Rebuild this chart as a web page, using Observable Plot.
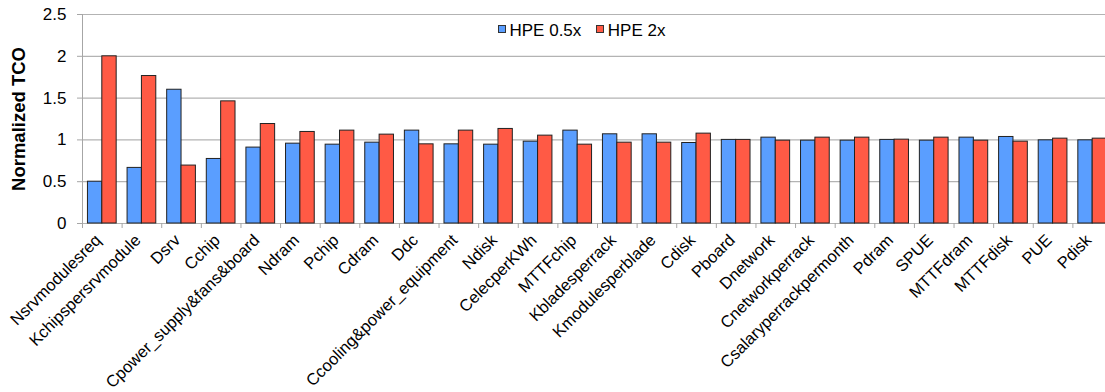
<!DOCTYPE html>
<html>
<head>
<meta charset="utf-8">
<script src="https://cdn.jsdelivr.net/npm/d3@7"></script>
<script src="https://cdn.jsdelivr.net/npm/@observablehq/plot@0.6"></script>
<style>
  html, body { margin: 0; padding: 0; background: #fff; overflow: hidden; }
  #chart { position: relative; width: 1105px; height: 392px; overflow: hidden;
           font-family: "Liberation Sans", Arial, Helvetica, sans-serif; }
  #chart svg { display: block; max-width: none !important; }
  .legend { position: absolute; left: 498px; top: 20.5px; display: flex; align-items: flex-start;
            font-size: 17px; line-height: 20px; color: #000; }
  .legend .item { display: flex; align-items: flex-start; margin-right: 15px; }
  .legend .swatch { width: 6px; height: 6px; border: 1px solid #333; margin: 4.5px 3.5px 0 0; }
</style>
</head>
<body>
<div id="chart"></div>
<script>
// TCO sensitivity per model parameter, normalized to the baseline
const categories = [
  "Nsrvmodulesreq", "Kchipspersrvmodule", "Dsrv", "Cchip", "Cpower_supply&fans&board",
  "Ndram", "Pchip", "Cdram", "Ddc", "Ccooling&power_equipment", "Ndisk", "CelecperKWh",
  "MTTFchip", "Kbladesperrack", "Kmodulesperblade", "Cdisk", "Pboard", "Dnetwork",
  "Cnetworkperrack", "Csalaryperrackpermonth", "Pdram", "SPUE", "MTTFdram", "MTTFdisk",
  "PUE", "Pdisk"
];
const series = ["HPE 0.5x", "HPE 2x"];
const hpeHalf = [
  0.50, 0.665, 1.60, 0.772, 0.908, 0.955, 0.943, 0.967, 1.111, 0.947, 0.943, 0.979,
  1.111, 1.067, 1.067, 0.963, 1.00, 1.027, 0.991, 0.991, 1.00, 0.991, 1.027, 1.035,
  0.995, 0.995
];
const hpeDouble = [
  2.00, 1.764, 0.693, 1.461, 1.19, 1.095, 1.111, 1.063, 0.947, 1.111, 1.131, 1.051,
  0.943, 0.967, 0.967, 1.075, 1.00, 0.991, 1.027, 1.027, 1.003, 1.027, 0.991, 0.979,
  1.015, 1.015
];
const yTicks = [0, 0.5, 1, 1.5, 2, 2.5];
const colors = ["#5a9eff", "#ff5a45"];

const rows = categories.flatMap((c, i) => [
  {category: c, series: series[0], value: hpeHalf[i]},
  {category: c, series: series[1], value: hpeDouble[i]}
]);

// the plot runs a few pixels past the right edge of the page, which clips it
const width = 1112, height = 392;
const marginLeft = 82, marginRight = 0, marginTop = 14, marginBottom = 169;
const band = (width - marginLeft - marginRight) / categories.length;
const outer = band * 0.1375;   // gap on each side of a bar pair
const half = band / 2;

const plot = Plot.plot({
  width, height, marginLeft, marginRight, marginTop, marginBottom,
  style: {fontFamily: "Liberation Sans, Arial, Helvetica, sans-serif", fontSize: "17px",
          color: "#000", background: "#fff"},
  x: {domain: categories, padding: 0, round: false, label: null},
  y: {domain: [0, 2.5], label: null},
  color: {domain: series, range: colors},
  marks: [
    Plot.gridY(yTicks, {stroke: "#b3b3b3", strokeOpacity: 1, strokeWidth: 1.2}),
    Plot.frame({anchor: "left", stroke: "#a6a6a6"}),
    Plot.axisY(yTicks, {tickSize: 5, tickPadding: 11, stroke: "#a6a6a6",
                        tickFormat: d => String(d), fontSize: 17, label: null}),
    Plot.barY(rows.filter(d => d.series === series[0]), {
      x: "category", y: "value", fill: "series", stroke: "#222", strokeWidth: 1,
      insetLeft: outer, insetRight: half
    }),
    Plot.barY(rows.filter(d => d.series === series[1]), {
      x: "category", y: "value", fill: "series", stroke: "#222", strokeWidth: 1,
      insetLeft: half, insetRight: outer
    }),
    // tick marks sit on the category boundaries
    Plot.axisX({tickSize: 5, tickFormat: () => "", dx: -half, stroke: "#a6a6a6", label: null}),
    Plot.axisX({tickSize: 0, tickPadding: 14, dx: -4, tickRotate: -45, fontSize: 16.5, label: null}),
    Plot.text(["Normalized TCO"], {frameAnchor: "left", textAnchor: "middle", rotate: -90,
                                   dx: -63, fontWeight: "bold", fontSize: 18.5})
  ]
});

const chart = document.getElementById("chart");
chart.appendChild(plot);

const legend = document.createElement("div");
legend.className = "legend";
series.forEach((s, i) => {
  const item = document.createElement("div");
  item.className = "item";
  const sw = document.createElement("span");
  sw.className = "swatch";
  sw.style.background = colors[i];
  const label = document.createElement("span");
  label.textContent = s;
  item.append(sw, label);
  legend.appendChild(item);
});
chart.appendChild(legend);
</script>
</body>
</html>
